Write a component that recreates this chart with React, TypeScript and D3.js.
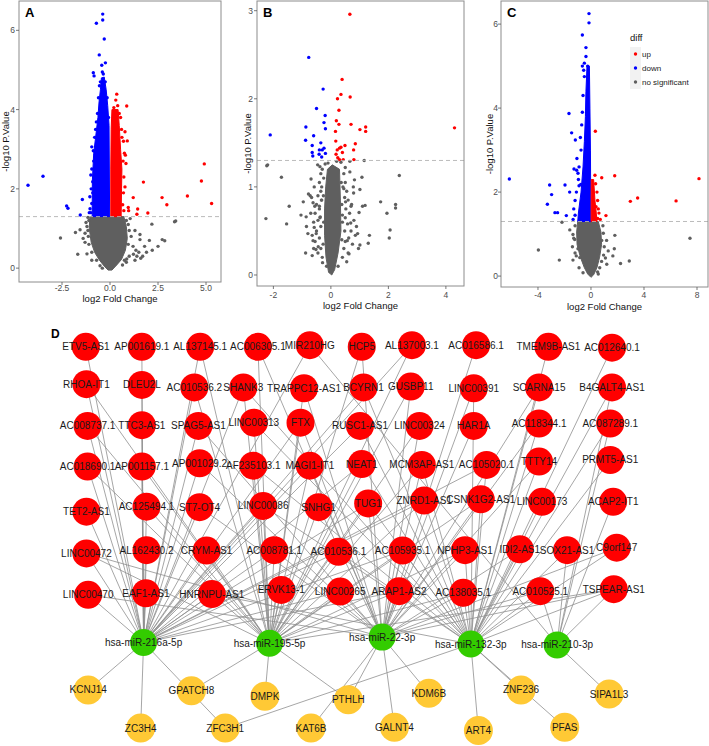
import React from 'react';
import * as d3 from 'd3';

type P = [number, number];

// ---------------- Panel A data (log2FC, -log10 p) ----------------
const aDownCore: P[] = [[-0.45,4.8],[-0.3,4.82],[-0.2,4.5],[-0.12,4.1],[-0.05,3.6],[-0.02,1.3],[-0.93,1.3],[-0.92,2.2],[-0.85,2.9],[-0.75,3.3],[-0.63,3.8],[-0.57,4.2],[-0.5,4.5]];
const aUpCore: P[] = [[0.1,4.0],[0.42,4.0],[0.48,3.6],[0.55,3.0],[0.62,2.5],[0.6,2.0],[0.58,1.3],[0.04,1.3],[0.04,2.5],[0.06,3.5]];
const aNsCore: P[] = [[-1.05,1.3],[0.72,1.3],[0.85,1.05],[0.9,0.75],[0.8,0.45],[0.6,0.22],[0.35,0.08],[0.1,-0.05],[-0.1,-0.05],[-0.3,0.05],[-0.55,0.2],[-0.8,0.4],[-0.98,0.65],[-1.08,1.0]];
const aDown: P[] = [[-0.38,6.41],[-0.38,6.26],[-0.71,6.18],[-0.3,5.78],[-0.56,5.38],[-0.24,5.18],[-0.43,5.12],[-0.87,4.93],[-0.83,4.85],[-0.71,3.69],[-0.95,3.06],[-0.87,2.96],[-0.9,2.18],[-3.49,2.32],[-4.27,2.09],[-1.44,1.73],[-2.26,1.57],[-2.19,1.51],[-1.55,1.34],[-0.95,1.63],[-1.04,1.5],[-1.0,1.4],[-0.6,4.3],[-0.55,4.6],[-0.5,4.7],[-0.65,3.9],[-0.75,3.5],[-0.8,3.3],[-0.85,2.7],[-0.95,2.5],[-1.0,2.35],[-0.98,2.0],[-1.05,1.8],[-1.08,1.4],[-0.9,1.9],[-0.4,4.95],[-0.35,4.9],[-0.25,4.7],[-0.15,4.3],[-0.08,3.8]];
const aUp: P[] = [[0.35,4.39],[0.3,4.24],[0.87,4.09],[0.78,3.44],[0.9,3.21],[0.8,2.85],[0.83,2.64],[1.74,2.17],[4.91,2.63],[4.76,2.2],[4.03,1.82],[5.29,1.63],[2.71,1.78],[2.96,1.6],[1.21,1.78],[1.44,1.49],[1.4,1.36],[1.97,1.39],[0.95,1.53],[0.97,1.45],[0.55,3.8],[0.6,3.5],[0.7,3.2],[0.75,2.9],[0.72,2.3],[0.78,2.05],[0.7,1.9],[0.66,1.6],[0.72,1.45],[0.48,3.9],[0.68,2.7],[0.62,3.3],[0.2,4.05],[0.4,4.1]];
const aNs: P[] = [[3.42,1.19],[3.36,1.17],[-2.58,0.76],[-1.68,0.35],[2.18,1.11],[1.56,0.85],[2.85,0.69],[2.72,0.72],[2.5,0.55],[2.05,0.7],[1.9,0.4],[-1.3,0.88],[-1.13,0.8],[-1.56,0.97],[1.3,0.95],[1.56,0.72],[1.22,0.35],[0.87,0.23],[1.4,0.3],[-1.2,0.36],[-0.95,0.2],[-0.52,0.06],[-1.1,1.2],[-1.2,1.05],[-1.15,0.95],[0.85,1.2],[0.95,1.1],[1.0,0.95],[1.1,0.8],[0.95,0.6],[1.2,0.55],[1.35,0.45],[1.5,0.4],[1.7,0.3],[1.6,0.25],[1.3,0.2],[1.0,0.3],[0.85,0.15],[0.65,0.08],[-0.7,0.2],[-0.95,0.4],[-1.1,0.6],[-1.3,0.65],[-1.4,0.75],[-1.25,1.15],[1.8,0.55],[2.2,0.45],[-1.8,0.9],[1.05,1.25],[-1.15,1.28],[0.75,0.2],[-0.4,0.0]];
const aXTicks = [-2.5, 0, 2.5, 5];
const aXTickLabels = ['-2.5', '0.0', '2.5', '5.0'];
const aYTicks = [0, 2, 4, 6];

// ---------------- Panel B data ----------------
const bNsCore: P[] = [[-0.12,1.2],[0.05,1.25],[0.3,1.2],[0.33,0.85],[0.35,0.5],[0.25,0.25],[0.13,0.06],[0.03,0.0],[-0.08,0.03],[-0.17,0.2],[-0.22,0.45],[-0.22,0.75],[-0.18,1.0]];
const bUp: P[] = [[0.66,2.96],[0.39,2.22],[0.35,2.05],[0.67,2.02],[0.23,2.0],[0.28,1.87],[0.19,1.75],[0.28,1.71],[0.7,1.71],[0.16,1.63],[1.01,1.65],[1.21,1.68],[1.21,1.63],[0.17,1.52],[0.49,1.47],[0.85,1.49],[0.3,1.44],[0.35,1.45],[0.22,1.42],[0.4,1.39],[0.79,1.42],[0.18,1.37],[0.24,1.33],[0.3,1.31],[0.43,1.31],[0.8,1.31],[4.3,1.67]];
const bDown: P[] = [[-0.77,2.47],[-0.27,2.11],[-0.5,1.89],[-0.2,1.81],[-0.24,1.73],[-0.19,1.66],[-0.87,1.68],[-2.11,1.59],[-0.6,1.58],[-0.88,1.53],[-0.65,1.47],[-0.35,1.5],[-0.24,1.44],[-0.4,1.42],[-0.3,1.42],[-0.19,1.38],[-0.65,1.39],[-0.63,1.35],[-0.41,1.37],[-0.32,1.34]];
const bNs: P[] = [[-2.23,1.24],[-2.2,1.25],[-1.72,1.11],[-1.45,0.78],[-1.54,0.58],[-2.26,0.64],[-0.96,0.83],[-1.04,0.68],[-0.85,0.55],[-0.88,0.25],[-0.65,0.22],[-0.72,0.9],[-0.58,1.0],[-0.69,1.09],[-0.46,1.25],[-0.38,1.23],[-0.35,1.15],[-0.56,0.78],[-0.51,0.47],[-0.44,0.32],[-0.29,0.14],[0.66,1.29],[1.16,1.3],[0.66,1.17],[0.82,1.08],[1.08,1.11],[1.01,0.97],[0.79,0.93],[0.7,0.78],[0.98,0.71],[1.1,0.78],[1.19,0.79],[0.89,0.55],[0.69,0.59],[0.93,0.47],[1.34,0.45],[1.3,0.36],[1.01,0.34],[0.96,0.3],[0.57,0.39],[0.63,0.24],[1.73,0.83],[1.95,0.7],[2.06,0.51],[2.03,0.42],[2.25,0.8],[2.25,0.76],[2.38,1.13],[0.45,0.98],[0.51,0.83],[0.4,0.68],[-0.67,0.88],[-0.78,0.92],[-0.86,0.66],[-0.8,0.47],[-0.62,0.39],[-0.58,0.54],[-0.37,0.66],[-0.32,0.85],[-0.32,1.0],[-0.4,0.78],[-0.52,0.29],[-0.3,1.2],[-0.25,1.1],[-0.4,1.05],[-0.35,0.95],[-0.45,0.9],[-0.5,0.8],[-0.4,0.75],[-0.55,0.7],[-0.45,0.62],[-0.6,0.6],[-0.35,0.55],[-0.5,0.5],[-0.65,0.45],[-0.4,0.42],[-0.55,0.38],[-0.35,0.3],[-0.45,0.25],[-0.3,0.2],[-0.6,0.3],[-0.7,0.7],[-0.62,0.82],[-0.33,0.85],[-0.38,0.65],[0.45,1.15],[0.5,1.05],[0.55,0.95],[0.48,0.88],[0.6,0.85],[0.52,0.75],[0.65,0.7],[0.5,0.65],[0.58,0.58],[0.7,0.5],[0.48,0.5],[0.62,0.42],[0.5,0.38],[0.75,0.35],[0.45,0.3],[0.6,0.25],[0.4,0.2],[0.55,0.15],[0.8,0.62],[0.72,0.8],[0.42,1.0],[0.5,1.22],[0.85,0.45],[0.78,1.0],[0.35,1.28],[0.2,1.29],[-0.1,1.27],[-0.2,1.26],[0.25,0.1],[-0.15,0.1],[-0.25,0.6],[-0.27,0.35],[0.38,0.4],[0.4,0.6],[0.38,0.8],[0.36,1.05],[-0.26,0.9]];
const bXTicks = [-2, 0, 2, 4];
const bXTickLabels = ['-2', '0', '2', '4'];
const bYTicks = [0, 1, 2, 3];

// ---------------- Panel C data ----------------
const cDownCore: P[] = [[-0.3,5.0],[-0.12,5.0],[-0.08,4.0],[-0.04,3.0],[-0.01,1.3],[-1.0,1.3],[-0.95,1.5],[-0.75,2.0],[-0.6,2.6],[-0.5,3.2],[-0.42,3.8],[-0.38,4.4]];
const cUpCore: P[] = [[0.02,2.3],[0.2,2.3],[0.3,1.8],[0.4,1.5],[0.45,1.3],[0.01,1.3]];
const cNsCore: P[] = [[-1.0,1.3],[0.55,1.3],[0.75,1.05],[0.8,0.75],[0.65,0.45],[0.45,0.2],[0.2,0.03],[0.0,-0.03],[-0.25,0.05],[-0.5,0.2],[-0.8,0.45],[-1.05,0.75],[-1.08,1.05]];
const cDown: P[] = [[-0.15,6.25],[-0.15,6.03],[-0.65,5.74],[-0.38,5.44],[-0.38,5.23],[-0.65,5.0],[-0.5,5.07],[-0.25,5.0],[-1.66,3.87],[-1.46,3.41],[-1.18,3.24],[-1.06,2.8],[-1.28,2.55],[-1.08,2.52],[-0.98,2.45],[-6.16,2.31],[-3.12,2.17],[-1.96,2.17],[-2.97,1.94],[-1.61,2.0],[-3.29,1.71],[-2.72,1.51],[-2.52,1.51],[-1.86,1.44],[-0.9,2.15],[-0.77,2.18],[-0.55,4.9],[-0.5,4.75],[-0.6,4.3],[-0.7,3.6],[-0.75,3.0],[-0.9,2.6],[-0.95,2.3],[-1.1,2.0],[-1.2,1.8],[-1.3,1.6],[-1.2,1.45],[-1.35,1.35],[-0.8,3.3],[-0.65,3.9]];
const cUp: P[] = [[0.33,3.45],[0.81,2.34],[1.79,2.39],[8.15,2.32],[3.52,1.86],[2.97,1.78],[6.42,1.79],[1.13,1.44],[0.5,1.37],[0.35,2.2],[0.45,2.0],[0.5,1.8],[0.55,1.6],[0.6,1.5],[0.7,1.35],[0.3,2.4],[0.38,1.65]];
const cNs: P[] = [[-2.19,1.28],[-3.97,0.62],[-2.39,0.38],[7.47,0.9],[2.89,0.36],[2.23,0.3],[1.76,0.65],[1.65,0.48],[1.8,0.97],[0.93,1.02],[1.18,0.85],[-1.6,1.1],[-1.36,0.99],[-1.23,0.87],[-0.98,0.65],[-0.85,0.44],[-1.11,0.48],[-0.9,0.2],[-1.36,0.38],[1.09,0.43],[1.19,0.28],[0.66,0.2],[0.5,0.1],[0.81,0.85],[-1.2,1.2],[-1.3,0.9],[-1.4,0.7],[-1.2,0.55],[0.9,1.2],[1.0,0.7],[0.95,0.5],[0.8,0.35],[1.3,0.6],[-0.6,0.08],[0.55,0.05]];
const cXTicks = [-4, 0, 4, 8];
const cXTickLabels = ['-4', '0', '4', '8'];
const cYTicks = [0, 2, 4, 6];

const legendLabels = ['up', 'down', 'no significant'];

// ---------------- Network data ----------------
const lncRNAs = [
  'ETV5-AS1','AP001619.1','AL137145.1','AC006305.1','MIR210HG','HCP5','AL137003.1','AC016586.1','TMEM9B-AS1','AC012640.1',
  'RHOA-IT1','DLEU2L','AC010536.2','SHANK3','TRAPPC12-AS1','BCYRN1','GUSBP11','LINC00391','SCARNA15','B4GALT4-AS1',
  'AC008737.1','TTC3-AS1','SPAG5-AS1','LINC00313','FTX','RUSC1-AS1','LINC00324','HAR1A','AC118344.1','AC087289.1',
  'AC018690.1','AP001157.1','AP001029.2','AF235103.1','MAGI1-IT1','NEAT1','MCM3AP-AS1','AC105020.1','TTTY14','PRMT5-AS1',
  'TET2-AS1','AC125494.1','ST7-OT4','LINC00086','SNHG1','TUG1','ZNRD1-AS1','CSNK1G2-AS1','LINC00173','ACAP2-IT1',
  'LINC00472','AL162430.2','CRYM-AS1','AC008781.1','AC010536.1','AC105935.1','NPHP3-AS1','IDI2-AS1','SOX21-AS1','C9orf147',
  'LINC00470','EAF1-AS1','HNRNPU-AS1','ERVK13-1','LINC00265','ARAP1-AS2','AC138035.1','AC010525.1','TSPEAR-AS1'
];
const miRNAs = ['hsa-miR-216a-5p','hsa-miR-195-5p','hsa-miR-22-3p','hsa-miR-132-3p','hsa-miR-210-3p'];
const mRNAs = ['KCNJ14','GPATCH8','DMPK','PTHLH','ZC3H4','ZFC3H1','KAT6B','KDM6B','ZNF236','SIPA1L3','GALNT4','ART4','PFAS'];
// lncRNA -> miRNA (indices in miRNAs)
const lncTargets: number[][] = [
  [0],[0],[0,1],[1,2],[0,4],[1,2],[0,1],[2],[3],[3],
  [0,1],[0],[0,1],[0,1,3],[1,2],[0,3],[1,2],[2,3],[3,2],[4,3],
  [0,1],[0],[0,2],[1,3],[0,1,2],[0,3],[1,2],[2],[3,2],[4,3],
  [0,1],[0,1],[0,2],[1,3],[0,1,2],[0,1,3],[1,2,3],[0,3],[3,2],[3],
  [0],[0,1],[0,2],[0,1,3],[1,2],[0,1,2,3],[0,1,3],[1,2,3],[3],[4],
  [0,1,2],[0],[0,1],[0,1,2],[0,1,3],[0,1,2,3],[1,2,3],[2,3],[3,4],[2,3],
  [0,2],[0],[0,1,3],[1],[0,1,2],[0,1,2],[1,2,3],[3,2,4],[1,2,3,4]
];
// mRNA -> miRNA
const mrnaSources: number[][] = [[0],[1],[1],[1,2],[0],[0,3],[2],[2],[3],[4],[2],[3],[3]];

// layout (grid units, converted through scales)
const lncGrid: P[] = [
  [-0.02,0.02],[0.94,0.02],[1.94,0.02],[2.93,0.02],[3.82,-0.02],[4.71,0.02],[5.57,-0.02],[6.67,-0.02],[7.91,0.02],[9.0,0.04],
  [-0.01,0.93],[0.94,0.95],[1.84,1.01],[2.68,1.01],[3.72,1.03],[4.74,1.01],[5.55,0.99],[6.63,1.03],[7.75,1.01],[9.0,1.01],
  [0.01,1.95],[0.94,1.93],[1.91,1.95],[2.86,1.87],[3.66,1.87],[4.68,1.95],[5.7,1.95],[6.63,1.95],[7.75,1.89],[8.97,1.89],
  [0.01,2.94],[0.94,2.94],[1.93,2.86],[2.85,2.92],[3.82,2.92],[4.71,2.88],[5.74,2.9],[6.85,2.9],[7.75,2.82],[8.97,2.78],
  [-0.01,4.04],[1.02,3.92],[1.93,3.93],[3.02,3.9],[3.97,3.93],[4.82,3.84],[5.78,3.77],[6.75,3.74],[7.8,3.8],[9.02,3.8],
  [-0.01,5.06],[1.02,4.98],[2.05,4.99],[3.21,4.98],[4.31,5.02],[5.41,4.99],[6.48,4.98],[7.42,4.96],[8.23,4.98],[9.08,4.92],
  [0.02,6.07],[1.01,6.03],[2.14,6.05],[3.33,5.95],[4.34,5.99],[5.35,5.98],[6.45,6.02],[7.77,5.98],[9.03,5.93]
];
const miGrid: P[] = [[0.97,7.23],[3.13,7.25],[5.06,7.1],[6.58,7.27],[8.06,7.29]];
const mGrid: P[] = [[0.02,8.39],[1.79,8.41],[3.05,8.54],[4.48,8.63],[0.92,9.32],[2.37,9.32],[3.84,9.32],[5.86,8.47],[7.44,8.39],[8.95,8.49],[5.27,9.3],[6.71,9.38],[8.19,9.3]];

const FONT = '"Liberation Sans", Arial, Helvetica, sans-serif';
const RED = '#ff0000';
const BLUE = '#0000ff';
const GREY = '#5f5f5f';

interface PanelCfg {
  tag: string; left: number; right: number; top: number; bottom: number;
  xDomain: [number, number]; yDomain: [number, number];
  xTicks: number[]; xTickLabels: string[]; yTicks: number[];
  tickLabelY: number; xTitleY: number; yTitleX: number; yTickX: number;
  ns: P[]; down: P[]; up: P[]; nsCore: P[]; downCore?: P[]; upCore?: P[];
  legend?: boolean;
}

function Volcano({ c }: { c: PanelCfg }) {
  const x = d3.scaleLinear().domain(c.xDomain).range([c.left, c.right]);
  const y = d3.scaleLinear().domain(c.yDomain).range([c.bottom, c.top]);
  const shape = d3.line<P>().x(d => x(d[0])).y(d => y(d[1])).curve(d3.curveLinearClosed);
  const r = 1.7;
  const cx = (c.left + c.right) / 2;
  const cy = (c.top + c.bottom) / 2;
  const dots = (pts: P[], col: string) => pts.map((d, i) => <circle key={i} cx={x(d[0])} cy={y(d[1])} r={r} fill={col} />);
  return (
    <g fontFamily={FONT}>
      <clipPath id={'clip' + c.tag}><rect x={c.left} y={c.top} width={c.right - c.left} height={c.bottom - c.top} /></clipPath>
      <rect x={c.left} y={c.top} width={c.right - c.left} height={c.bottom - c.top} fill="#fff" />
      <g clipPath={`url(#clip${c.tag})`}>
        <path d={shape(c.nsCore) || ''} fill={GREY} stroke={GREY} strokeWidth={1} strokeLinejoin="round" />
        <g>{dots(c.ns, GREY)}</g>
        {c.downCore && <path d={shape(c.downCore) || ''} fill={BLUE} stroke={BLUE} strokeWidth={1} strokeLinejoin="round" />}
        <g>{dots(c.down, BLUE)}</g>
        {c.upCore && <path d={shape(c.upCore) || ''} fill={RED} stroke={RED} strokeWidth={1} strokeLinejoin="round" />}
        <g>{dots(c.up, RED)}</g>
        <line x1={c.left} x2={c.right} y1={y(1.3)} y2={y(1.3)} stroke="#b3b3b3" strokeWidth={0.9} strokeDasharray="4,3" />
      </g>
      <rect x={c.left} y={c.top} width={c.right - c.left} height={c.bottom - c.top} fill="none" stroke="#8c8c8c" strokeWidth={1} />
      {c.xTicks.map((t, i) => (
        <g key={'xt' + i}>
          <line x1={x(t)} x2={x(t)} y1={c.bottom} y2={c.bottom + 3} stroke="#555" strokeWidth={0.8} />
          <text x={x(t)} y={c.tickLabelY} fontSize={8.5} fill="#4d4d4d" textAnchor="middle">{c.xTickLabels[i]}</text>
        </g>
      ))}
      {c.yTicks.map((t, i) => (
        <g key={'yt' + i}>
          <line x1={c.left - 3} x2={c.left} y1={y(t)} y2={y(t)} stroke="#555" strokeWidth={0.8} />
          <text x={c.yTickX} y={y(t)} dy="0.35em" fontSize={8.5} fill="#4d4d4d" textAnchor="end">{t}</text>
        </g>
      ))}
      <text x={cx} y={c.xTitleY} fontSize={9.5} textAnchor="middle" fill="#111">log2 Fold Change</text>
      <text transform={`translate(${c.yTitleX},${cy}) rotate(-90)`} fontSize={9.5} textAnchor="middle" dy="0.35em" fill="#111">-log10 P.Value</text>
      <text x={c.left + 6} y={c.top + 16} fontSize={13} fontWeight="bold" fill="#000">{c.tag}</text>
      {c.legend && (
        <g>
          <text x={630} y={41} fontSize={9.5} fill="#111">diff</text>
          {legendLabels.map((l, i) => (
            <g key={l}>
              <rect x={630} y={47 + i * 14} width={11} height={14} fill="#f2f2f2" />
              <circle cx={635.5} cy={54 + i * 14} r={1.7} fill={[RED, BLUE, GREY][i]} />
              <text x={642} y={54 + i * 14} dy="0.35em" fontSize={8} fill="#222">{l}</text>
            </g>
          ))}
        </g>
      )}
    </g>
  );
}

function Network() {
  const gx = d3.scaleLinear().domain([0, 9]).range([87, 612]);
  const gy = d3.scaleLinear().domain([0, 6]).range([346, 592]);
  const lp = lncGrid.map(d => [gx(d[0]), gy(d[1])] as P);
  const mp = miGrid.map(d => [gx(d[0]), gy(d[1])] as P);
  const rp = mGrid.map(d => [gx(d[0]), gy(d[1])] as P);
  const edges: [P, P][] = [];
  lncTargets.forEach((ts, i) => ts.forEach(t => edges.push([lp[i], mp[t]])));
  mrnaSources.forEach((ss, i) => ss.forEach(s => edges.push([rp[i], mp[s]])));
  const label = (name: string, p: P, key: string) => (
    <text key={key} x={p[0]} y={p[1]} dy="0.35em" textAnchor="middle" fontSize={10} fill="#1a1a1a">{name}</text>
  );
  return (
    <g fontFamily={FONT}>
      <text x={51} y={338} fontSize={12} fontWeight="bold" fill="#000">D</text>
      <g stroke="#8f8f8f" strokeWidth={0.8}>
        {edges.map((e, i) => <line key={i} x1={e[0][0]} y1={e[0][1]} x2={e[1][0]} y2={e[1][1]} />)}
      </g>
      {lp.map((p, i) => <circle key={'l' + i} cx={p[0]} cy={p[1]} r={14} fill={RED} />)}
      {mp.map((p, i) => <circle key={'m' + i} cx={p[0]} cy={p[1]} r={13.5} fill="#33cc00" />)}
      {rp.map((p, i) => <circle key={'r' + i} cx={p[0]} cy={p[1]} r={14.5} fill="#ffc935" />)}
      {lp.map((p, i) => label(lncRNAs[i], p, 'lt' + i))}
      {mp.map((p, i) => label(miRNAs[i], p, 'mt' + i))}
      {rp.map((p, i) => label(mRNAs[i], p, 'rt' + i))}
    </g>
  );
}

const panels: PanelCfg[] = [
  { tag: 'A', left: 19, right: 221, top: 1, bottom: 282, xDomain: [-4.74, 5.78], yDomain: [-0.35, 6.74],
    xTicks: aXTicks, xTickLabels: aXTickLabels, yTicks: aYTicks, tickLabelY: 291, xTitleY: 302, yTitleX: 6, yTickX: 15,
    ns: aNs, down: aDown, up: aUp, nsCore: aNsCore, downCore: aDownCore, upCore: aUpCore },
  { tag: 'B', left: 257, right: 464, top: 1, bottom: 286, xDomain: [-2.57, 4.63], yDomain: [-0.125, 3.11],
    xTicks: bXTicks, xTickLabels: bXTickLabels, yTicks: bYTicks, tickLabelY: 298, xTitleY: 309, yTitleX: 248, yTickX: 253,
    ns: bNs, down: bDown, up: bUp, nsCore: bNsCore },
  { tag: 'C', left: 501, right: 708, top: 1, bottom: 287, xDomain: [-6.79, 8.83], yDomain: [-0.26, 6.55],
    xTicks: cXTicks, xTickLabels: cXTickLabels, yTicks: cYTicks, tickLabelY: 298, xTitleY: 310, yTitleX: 490, yTickX: 498,
    ns: cNs, down: cDown, up: cUp, nsCore: cNsCore, downCore: cDownCore, upCore: cUpCore, legend: true },
];

export default function App() {
  return (
    <svg width={709} height={746} viewBox="0 0 709 746" style={{ position: 'absolute', left: 0, top: 0, background: '#fff' }}>
      <rect x={0} y={0} width={709} height={746} fill="#fff" />
      {panels.map(p => <Volcano key={p.tag} c={p} />)}
      <Network />
    </svg>
  );
}
